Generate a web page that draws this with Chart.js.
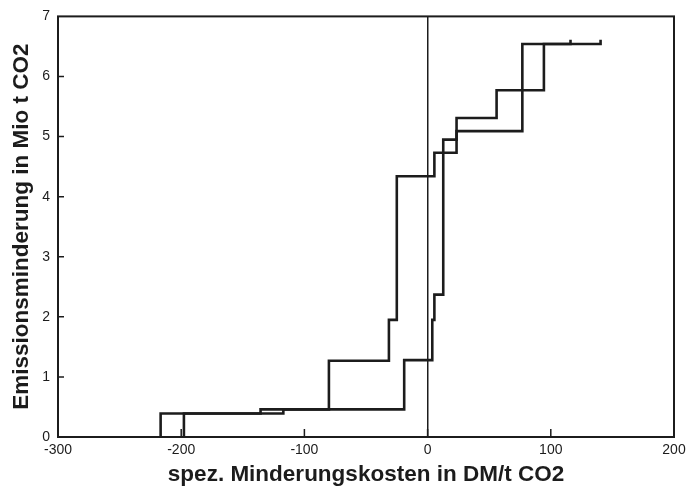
<!DOCTYPE html>
<html><head><meta charset="utf-8">
<script src="https://cdn.jsdelivr.net/npm/chart.js@4.4.0/dist/chart.umd.min.js"></script>
<style>html,body{margin:0;padding:0;background:#fff;}#wrap{width:694px;height:488px;position:relative;}</style>
</head><body><div id="wrap"><canvas id="c" width="694" height="488"></canvas></div>
<script>
// step curves: each point = (cost where step occurs, cumulative reduction after step)
const curve1X = [-216.7, -216.7, -135.6, -80.1, -31.4, -25.0, 5.5, 23.5, 56, 94.4, 116];
const curve1Y = [0, 0.39, 0.46, 1.27, 1.95, 4.34, 4.73, 5.31, 5.77, 6.54, 6.61];
const curve2X = [-197.8, -197.8, -117.1, -19.0, 3.8, 5.5, 12.7, 23.5, 76.9, 140.4];
const curve2Y = [0, 0.39, 0.46, 1.28, 1.95, 2.37, 4.95, 5.09, 6.54, 6.61];
const xTickValues = [-300, -200, -100, 0, 100, 200];
const yTickValues = [0, 1, 2, 3, 4, 5, 6, 7];
const xTitle = 'spez. Minderungskosten in DM/t CO2';
const yTitle = 'Emissionsminderung in Mio t CO2';

const toPts = (xs, ys) => xs.map((x, i) => ({x: x, y: ys[i]}));
const ink = '#1c1c1c';
const FONT = "'Liberation Sans', Arial, Helvetica, sans-serif";

const framePlugin = {
  id: 'frame',
  afterDraw(chart) {
    const {ctx, chartArea: a, scales: {x, y}} = chart;
    ctx.save();
    ctx.strokeStyle = ink;
    ctx.lineWidth = 2;
    ctx.strokeRect(a.left, a.top, a.right - a.left, a.bottom - a.top);
    ctx.lineWidth = 1.5;
    ctx.beginPath();
    xTickValues.slice(1, -1).forEach(v => {
      const px = x.getPixelForValue(v);
      ctx.moveTo(px, a.bottom); ctx.lineTo(px, a.bottom - 8);
    });
    yTickValues.slice(1, -1).forEach(v => {
      const py = y.getPixelForValue(v);
      ctx.moveTo(a.left, py); ctx.lineTo(a.left + 6, py);
    });
    ctx.stroke();
    ctx.restore();
  }
};

new Chart(document.getElementById('c'), {
  type: 'scatter',
  data: {
    datasets: [
      {data: toPts(curve1X, curve1Y), showLine: true, stepped: true, borderColor: ink, borderWidth: 2.6, pointRadius: 0, fill: false},
      {data: toPts(curve2X, curve2Y), showLine: true, stepped: true, borderColor: ink, borderWidth: 2.6, pointRadius: 0, fill: false}
    ]
  },
  options: {
    responsive: false,
    animation: false,
    events: [],
    layout: {padding: {top: 15, right: 20, left: 0, bottom: 0}},
    plugins: {legend: {display: false}, tooltip: {enabled: false}},
    scales: {
      x: {
        type: 'linear', min: -300, max: 200,
        afterBuildTicks: s => { s.ticks = xTickValues.map(v => ({value: v})); },
        afterFit: s => { s.height = 51; },
        grid: {drawTicks: false, color: c => (c.tick && c.tick.value === 0) ? ink : 'rgba(0,0,0,0)', lineWidth: 1.5},
        border: {display: false},
        ticks: {color: ink, font: {family: FONT, size: 14}, padding: 5, maxRotation: 0},
        title: {display: true, text: xTitle, color: ink, font: {family: FONT, size: 22.5, weight: 'bold'}, padding: {top: 0, bottom: 0}}
      },
      y: {
        type: 'linear', min: 0, max: 7,
        afterBuildTicks: s => { s.ticks = yTickValues.map(v => ({value: v})); },
        afterFit: s => { s.width = 58; },
        grid: {display: false, drawTicks: false},
        border: {display: false},
        ticks: {color: ink, font: {family: FONT, size: 14}, padding: 8},
        title: {display: true, text: yTitle, color: ink, font: {family: FONT, size: 22.5, weight: 'bold'}, padding: {top: 8, bottom: 0}}
      }
    }
  },
  plugins: [framePlugin]
});
</script></body></html>
